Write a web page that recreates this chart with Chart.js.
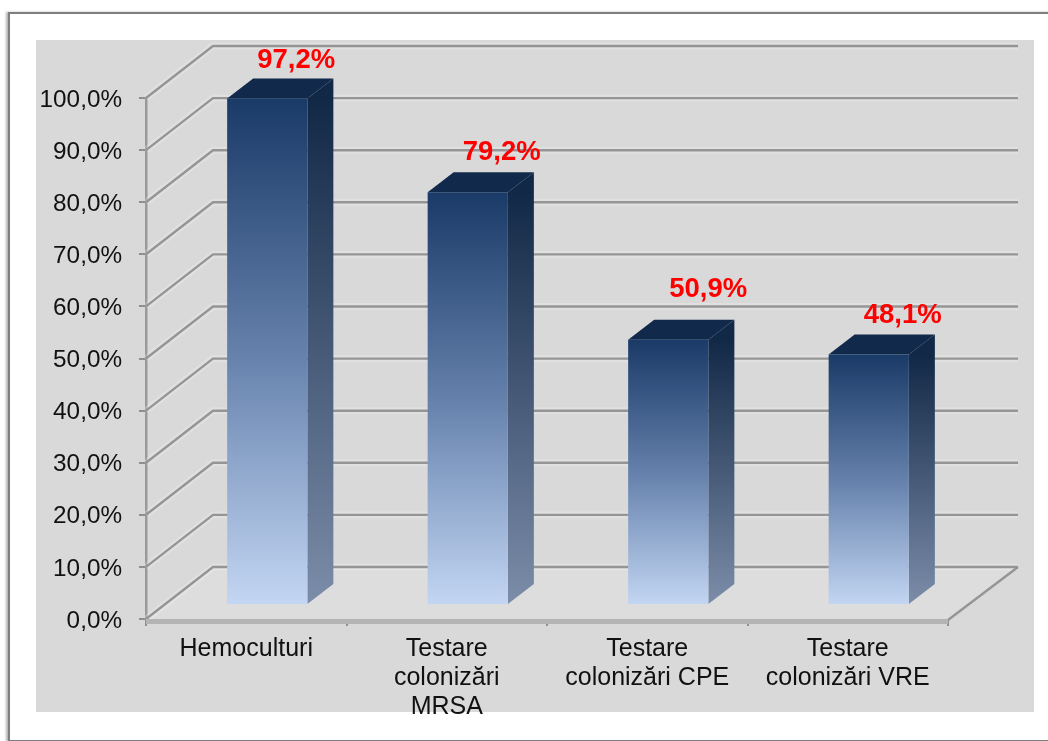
<!DOCTYPE html>
<html>
<head>
<meta charset="utf-8">
<script src="https://cdn.jsdelivr.net/npm/chart.js@4"></script>
<style>
html,body{margin:0;padding:0;background:#fff;width:1048px;height:741px;overflow:hidden}
#frame{position:absolute;left:8px;top:12px;width:1100px;height:726px;border:2px solid #7f7f7f;box-sizing:content-box;box-shadow:-2px 0 2px rgba(120,120,120,.55)}
#panel{position:absolute;left:36px;top:40px;width:998px;height:672px;background:#d9d9d9}
#wrap{position:absolute;left:0;top:0;width:1048px;height:741px}
canvas{display:block}
</style>
</head>
<body>
<div id="frame"></div>
<div id="panel"></div>
<div id="wrap"><canvas id="c" width="1048" height="741"></canvas></div>
<script>
const categories = ["Hemoculturi", ["Testare", "colonizări", "MRSA"], ["Testare", "colonizări CPE"], ["Testare", "colonizări VRE"]];
const values = [97.2, 79.2, 50.9, 48.1];
const valueLabels = ["97,2%", "79,2%", "50,9%", "48,1%"];
const yMin = 0, yMax = 100, yStep = 10;

const FONT = '"Liberation Sans", Arial, sans-serif';
const wall = {dx: 67, dy: 52, right: 1018};
const barShift = {x: 21, y: -14};
const barDepth = {x: 26, y: 20};
const labelShift = [[29, -38], [34, -40], [40, -50], [34, -39]];

const threeD = {
  id: 'threeD',
  beforeDatasetsDraw(chart) {
    const {ctx, scales: {x, y}, chartArea: a} = chart;
    ctx.save();
    const y0 = y.getPixelForValue(0);
    ctx.fillStyle = 'rgba(255,255,255,.12)';
    ctx.beginPath();
    ctx.moveTo(a.left, y0); ctx.lineTo(a.left + wall.dx, y0 - wall.dy);
    ctx.lineTo(wall.right, y0 - wall.dy); ctx.lineTo(a.right, y0); ctx.closePath(); ctx.fill();
    ctx.filter = 'blur(0.7px)';
    const gridPath = p => {
      ctx.beginPath();
      ctx.moveTo(a.left, p);
      ctx.lineTo(a.left + wall.dx, p - wall.dy);
      ctx.lineTo(wall.right, p - wall.dy);
    };
    y.ticks.forEach(t => {
      const p = y.getPixelForValue(t.value);
      ctx.strokeStyle = 'rgba(255,255,255,.2)';
      ctx.lineWidth = 7;
      gridPath(p); ctx.stroke();
      ctx.strokeStyle = '#959595';
      ctx.lineWidth = 2.4;
      gridPath(p); ctx.stroke();
    });
    ctx.beginPath();
    ctx.moveTo(a.right, y0 + 1); ctx.lineTo(wall.right, y0 - wall.dy); ctx.stroke();
    ctx.fillStyle = '#b4b4b4';
    ctx.fillRect(a.left, y0, a.right - a.left, 5);
    ctx.filter = 'none';
    const meta = chart.getDatasetMeta(0);
    meta.data.forEach(bar => {
      const L = bar.x - bar.width / 2 + barShift.x, R = bar.x + bar.width / 2 + barShift.x;
      const T = bar.y + barShift.y, B = bar.base + barShift.y;
      const g = ctx.createLinearGradient(0, T, 0, B);
      g.addColorStop(0, '#112846');
      g.addColorStop(1, '#7c8da9');
      ctx.fillStyle = g;
      ctx.beginPath();
      ctx.moveTo(R, T); ctx.lineTo(R + barDepth.x, T - barDepth.y);
      ctx.lineTo(R + barDepth.x, B - barDepth.y); ctx.lineTo(R, B); ctx.closePath(); ctx.fill();
      ctx.fillStyle = '#11294a';
      ctx.beginPath();
      ctx.moveTo(L, T); ctx.lineTo(L + barDepth.x, T - barDepth.y);
      ctx.lineTo(R + barDepth.x, T - barDepth.y); ctx.lineTo(R, T); ctx.closePath(); ctx.fill();
    });
    ctx.restore();
    ctx.save();
    ctx.translate(barShift.x, barShift.y);
  },
  afterDatasetsDraw(chart) {
    const {ctx} = chart;
    ctx.restore();
    ctx.save();
    ctx.fillStyle = '#ff0000';
    ctx.font = 'bold 27.5px ' + FONT;
    ctx.textAlign = 'center';
    ctx.textBaseline = 'middle';
    chart.getDatasetMeta(0).data.forEach((bar, i) => {
      ctx.fillText(valueLabels[i], bar.x + barShift.x + labelShift[i][0], bar.y + barShift.y + labelShift[i][1]);
    });
    ctx.restore();
  }
};

new Chart(document.getElementById('c'), {
  type: 'bar',
  data: {
    labels: categories,
    datasets: [{
      data: values,
      barPercentage: 0.4,
      categoryPercentage: 1,
      clip: false,
      backgroundColor(c) {
        const s = c.chart.scales.y;
        const top = s ? s.getPixelForValue(c.raw) : NaN;
        const bottom = s ? s.getPixelForValue(0) : NaN;
        if (!Number.isFinite(top) || !Number.isFinite(bottom)) return '#1b3a66';
        const g = c.chart.ctx.createLinearGradient(0, top, 0, bottom);
        g.addColorStop(0, '#1a3a67');
        g.addColorStop(0.5, '#6480ab');
        g.addColorStop(1, '#c3d6f3');
        return g;
      }
    }]
  },
  options: {
    responsive: false,
    animation: false,
    devicePixelRatio: 1,
    layout: {padding: {left: 0, right: 100, top: 98, bottom: 0}},
    plugins: {legend: {display: false}, tooltip: {enabled: false}},
    scales: {
      x: {
        type: 'category',
        afterFit(s) { s.height = 122; s.paddingLeft = 0; s.paddingRight = 0; },
        border: {display: false},
        grid: {display: true, offset: true, drawOnChartArea: false, drawTicks: true, tickLength: 7, color: '#8f8f8f', lineWidth: 2},
        ticks: {color: '#111', font: {family: FONT, size: 25, lineHeight: 1.15}, padding: 9, maxRotation: 0, autoSkip: false}
      },
      y: {
        min: yMin, max: yMax,
        afterFit(s) { s.width = 146; s.paddingTop = 0; s.paddingBottom = 0; },
        border: {display: true, color: '#9a9a9a', width: 2.5},
        grid: {drawOnChartArea: false, drawTicks: true, tickLength: 7, color: '#8f8f8f', lineWidth: 2},
        ticks: {
          stepSize: yStep,
          color: '#111',
          padding: 17,
          labelOffset: 2,
          font: {family: FONT, size: 24.3},
          callback: v => v.toFixed(1).replace('.', ',') + '%'
        }
      }
    }
  },
  plugins: [threeD]
});
</script>
</body>
</html>
